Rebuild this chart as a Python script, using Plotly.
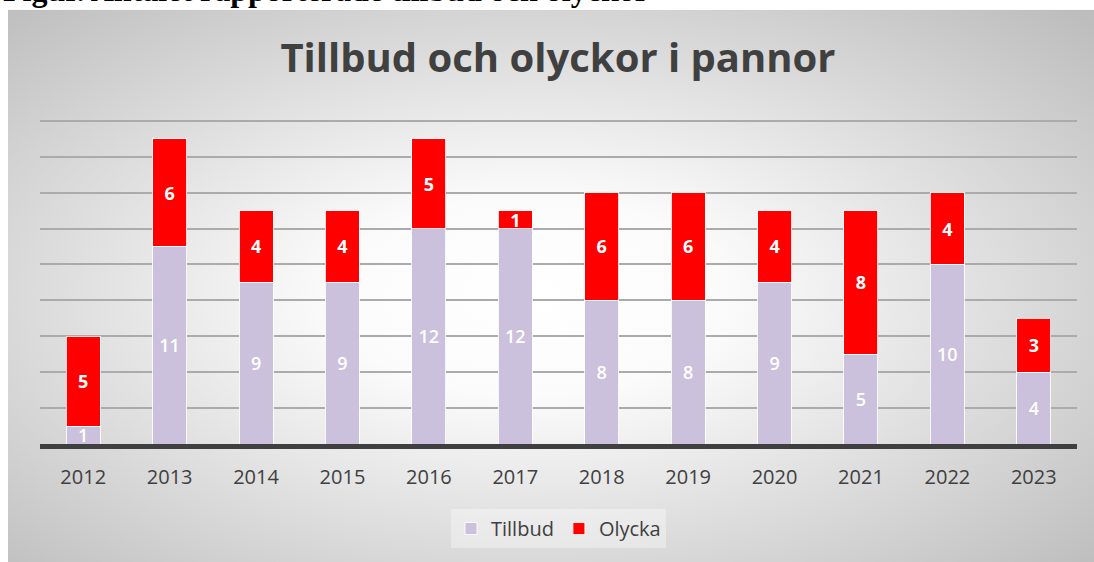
import plotly.graph_objects as go
import urllib.parse

years = ["2012", "2013", "2014", "2015", "2016", "2017", "2018", "2019", "2020", "2021", "2022", "2023"]
tillbud = [1, 11, 9, 9, 12, 12, 8, 8, 9, 5, 10, 4]
olycka = [5, 6, 4, 4, 5, 1, 6, 6, 4, 8, 4, 3]

TITLE = "Tillbud och olyckor i pannor"
CAPTION = "Figur. Antalet rapporterade tillbud och olyckor"

W, H = 1094, 562
YMAX = 18.1
ML, MR, MB = 40, 17, 118
PH = 323 * YMAX / 18
MT = H - MB - PH
PW = W - ML - MR

def px_to_paper_x(px):
    return (px - ML) / PW

def px_to_paper_y(py):
    return (H - MB - py) / PH

svg = (
    '<svg xmlns="http://www.w3.org/2000/svg" width="1086" height="552" preserveAspectRatio="none">'
    '<defs><radialGradient id="g" cx="48%" cy="52%" r="72%" fx="48%" fy="52%">'
    '<stop offset="0%" stop-color="#ffffff"/>'
    '<stop offset="25%" stop-color="#fbfbfb"/>'
    '<stop offset="100%" stop-color="#bdbdbd"/>'
    '</radialGradient></defs>'
    '<rect width="1086" height="552" fill="url(#g)"/></svg>'
)
bg_uri = "data:image/svg+xml;charset=utf-8," + urllib.parse.quote(svg)

fig = go.Figure()
fig.add_trace(go.Bar(
    x=years, y=tillbud, name="Tillbud",
    marker=dict(color="#cbc1dc", line=dict(color="rgba(255,255,255,0.85)", width=1)),
    text=[str(v) for v in tillbud], textposition="inside", insidetextanchor="middle",
    textangle=0, constraintext="none",
    textfont=dict(family="Open Sans", size=18, color="white", weight=600),
    cliponaxis=False,
))
fig.add_trace(go.Bar(
    x=years, y=olycka, name="Olycka",
    marker=dict(color="#ff0000", line=dict(color="rgba(255,255,255,0.85)", width=1)),
    text=[str(v) for v in olycka], textposition="inside", insidetextanchor="middle",
    textangle=0, constraintext="none",
    textfont=dict(family="Open Sans", size=18, color="white", weight="bold"),
    cliponaxis=False,
))

fig.update_layout(
    width=W, height=H,
    margin=dict(l=ML, r=MR, t=MT, b=MB, autoexpand=False),
    barmode="stack",
    bargap=0.607,
    paper_bgcolor="white",
    plot_bgcolor="rgba(0,0,0,0)",
    uniformtext=dict(minsize=17, mode="show"),
    title=dict(
        text=TITLE, x=558 / W, xanchor="center",
        y=1 - 58 / H, yanchor="middle", yref="container",
        font=dict(family="Open Sans", size=40, color="#404040", weight="bold"),
    ),
    xaxis=dict(
        type="category", showgrid=False, showline=True, linecolor="#3f3f3f", linewidth=5,
        ticks="", ticklabelstandoff=11,
        tickfont=dict(family="Open Sans", size=20, color="#404040"),
    ),
    yaxis=dict(
        range=[0, YMAX], dtick=2, showticklabels=False, showgrid=True,
        gridcolor="#ababab", gridwidth=2, zeroline=False, ticks="",
    ),
    legend=dict(
        orientation="h", x=0.5, xanchor="center", traceorder="normal",
        y=px_to_paper_y(509), yanchor="top",
        bgcolor="rgba(255,255,255,0.35)",
        font=dict(family="Open Sans", size=20, color="#404040"),
        itemwidth=30, tracegroupgap=0,
    ),
    images=[dict(
        source=bg_uri, xref="paper", yref="paper",
        x=px_to_paper_x(8), y=px_to_paper_y(10),
        sizex=(W - 8) / PW, sizey=(H - 10) / PH,
        xanchor="left", yanchor="top", sizing="stretch", layer="below",
    )],
    annotations=[dict(
        text="<b>" + CAPTION + "</b>", xref="paper", yref="paper",
        x=px_to_paper_x(1), y=px_to_paper_y(-10), xanchor="left", yanchor="middle",
        showarrow=False,
        font=dict(family="Liberation Serif", size=32, color="black"),
    )],
)

fig.write_html("out.html", config={"displayModeBar": False},
               post_script="document.body.style.margin='0';")
